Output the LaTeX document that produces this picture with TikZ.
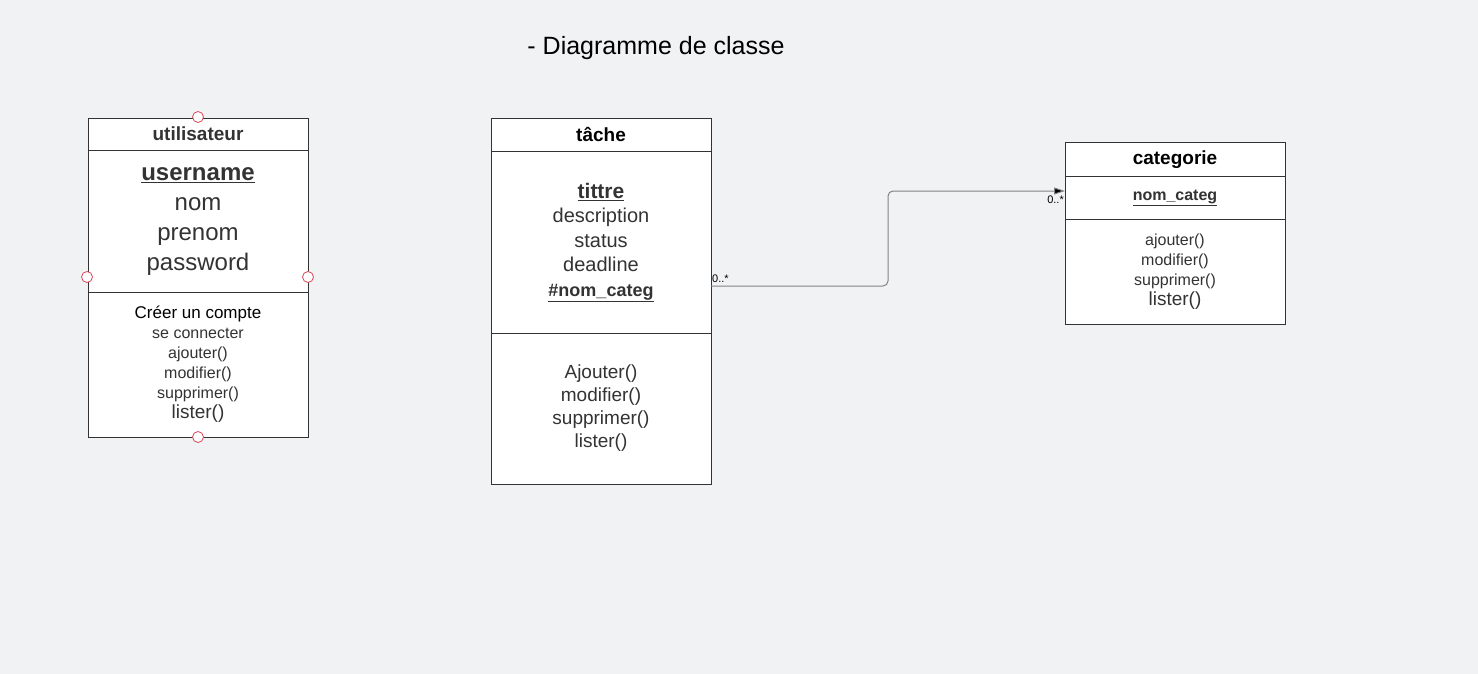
\documentclass[tikz,border=0pt]{standalone}
\usepackage{fontspec}
\setmainfont{Liberation Sans}
\usetikzlibrary{arrows.meta,positioning}

\definecolor{bgc}{RGB}{241,242,244}
\definecolor{boxc}{RGB}{51,51,51}
\definecolor{txtc}{RGB}{51,51,51}
\definecolor{linec}{RGB}{130,130,130}
\definecolor{handc}{RGB}{222,70,90}

\newcommand{\fs}[1]{\fontsize{#1}{#1}\selectfont}

\begin{document}
\begin{tikzpicture}[
  x=1pt,y=-1pt,
  >=Stealth,
  compart/.style={draw=boxc,fill=white,line width=1pt,minimum width=220pt,
    inner sep=0pt,outer sep=0pt,align=center,text=txtc,anchor=north},
  head/.style={compart,font=\bfseries\fs{19}},
  handle/.style={circle,draw=handc,fill=white,minimum size=11pt,inner sep=0pt,line width=0.8pt},
  conn/.style={draw=linec,line width=1pt,rounded corners=5pt,
    -{Triangle[length=11pt,width=7pt,fill=black]}},
  mult/.style={font=\fs{11},inner sep=1pt,text=black}]

  % background and bounds
  \fill[bgc] (0,0) rectangle (1478,674);
  \useasboundingbox (0,0) rectangle (1478,674);

  % title
  \node[font=\fs{25}] (title) at (656,48) {- Diagramme de classe};

  % utilisateur
  \node[head,minimum height=32pt] (uhead) at (198,119) {\raisebox{2pt}{utilisateur}};
  \node[compart,minimum height=141pt,font=\fs{24},below=0pt of uhead.south,anchor=north]
    (uattr) {\textbf{\underline{username}}\\[6pt]nom\\[6pt]prenom\\[6pt]password};
  \node[compart,minimum height=145pt,font=\fontsize{16}{20}\selectfont,below=0pt of uattr.south,anchor=north]
    (umeth) {{\color{black}\fs{17}Créer un compte}\\se connecter\\ajouter()\\modifier()\\supprimer()\\{\fs{19}lister()}};

  % tache
  \node[head,minimum height=33pt,text=black] (thead) at (601,119) {\raisebox{2pt}{tâche}};
  \node[compart,minimum height=181pt,font=\fontsize{20}{24.5}\selectfont,below=0pt of thead.south,anchor=north]
    (tattr) {{\bfseries\fs{21}\underline{tittre}}\\description\\status\\deadline\\{\bfseries\fs{18}\underline{\#nom\_categ}}};
  \node[compart,minimum height=151pt,font=\fontsize{19}{23}\selectfont,below=0pt of tattr.south,anchor=north]
    (tmeth) {Ajouter()\\modifier()\\supprimer()\\lister()};

  % categorie
  \node[head,minimum height=33pt,text=black] (chead) at (1175,143) {\raisebox{2pt}{categorie}};
  \node[compart,minimum height=43pt,font=\bfseries\fs{16},below=0pt of chead.south,anchor=north]
    (cattr) {\underline{nom\_categ}};
  \node[compart,minimum height=105pt,font=\fontsize{16}{20}\selectfont,below=0pt of cattr.south,anchor=north]
    (cmeth) {ajouter()\\modifier()\\supprimer()\\{\fs{19}lister()}};

  % association
  \draw[conn] ([yshift=-43.5pt]tattr.east) coordinate (tout) -- ++(177,0)
    |- ([yshift=6.5pt]cattr.west) coordinate (cin);
  \node[mult,anchor=south west] (mt) at ([yshift=2pt]tout) {0..*};
  \node[mult,anchor=north east] (mc) at ([yshift=-4pt]cin) {0..*};

  % selection handles
  \node[handle] (h1) at (198,117) {};
  \node[handle] (h2) at (87,277) {};
  \node[handle] (h3) at (308,277) {};
  \node[handle] (h4) at (198,437) {};
\end{tikzpicture}
\end{document}
